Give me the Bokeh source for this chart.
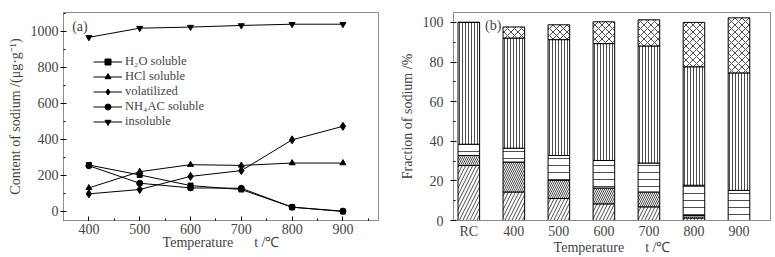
from bokeh.plotting import figure
from bokeh.layouts import row
from bokeh.models import SingleIntervalTicker, FixedTicker, Label, Range1d
from bokeh.embed import file_html
from bokeh.resources import INLINE

# ---------------- data (a) ----------------
temps = [400, 500, 600, 700, 800, 900]
h2o_soluble = [258, 203, 144, 122, 24, 0]
hcl_soluble = [131, 221, 260, 256, 269, 269]
volatilized = [98, 122, 195, 227, 398, 473]
nh4ac_soluble = [254, 157, 131, 129, 24, 2]
insoluble = [967, 1018, 1024, 1033, 1040, 1040]

# ---------------- data (b) ----------------
categories = ["RC", "400", "500", "600", "700", "800", "900"]
frac_h2o = [27.8, 14.4, 11.1, 8.4, 6.9, 1.3, 0.0]
frac_nh4ac = [5.0, 15.1, 9.2, 8.0, 7.5, 1.2, 0.0]
frac_hcl = [5.7, 7.0, 12.5, 13.9, 14.6, 15.3, 15.2]
frac_insoluble = [61.5, 55.6, 58.5, 59.0, 59.1, 59.8, 59.3]
frac_volatilized = [0.0, 5.6, 7.5, 11.0, 13.2, 22.4, 27.8]

FONT = "Liberation Serif"
FS = "14px"
FRAME = "#8c8c8c"
NB = "\u00a0"
XLABEL = "Temperature" + NB * 6 + "t" + NB + "/℃"


def style(p):
    p.outline_line_color = FRAME
    p.outline_line_width = 1
    p.xgrid.visible = False
    p.ygrid.visible = False
    for ax in p.axis:
        ax.axis_line_color = FRAME
        ax.major_label_text_font = FONT
        ax.major_label_text_font_size = FS
        ax.axis_label_text_font = FONT
        ax.axis_label_text_font_size = FS
        ax.axis_label_text_font_style = "normal"
        ax.axis_label_text_line_height = 0.8
        ax.major_tick_line_color = "black"
        ax.minor_tick_line_color = "black"
    for ax in p.yaxis:
        ax.major_tick_out = 3
        ax.major_tick_in = 3
        ax.minor_tick_out = 0
        ax.minor_tick_in = 2
        ax.major_label_standoff = 2
        ax.axis_label_standoff = 5
    for ax in p.xaxis:
        ax.major_tick_out = 0
        ax.major_tick_in = 4
        ax.minor_tick_out = 0
        ax.minor_tick_in = 2
        ax.major_label_standoff = 3
        ax.axis_label_standoff = -2


# ---------------- panel (a) ----------------
p1 = figure(width=388, height=257, output_backend="svg", toolbar_location=None,
            x_range=Range1d(350, 970), y_range=Range1d(-50, 1105),
            min_border_left=63, min_border_right=10, min_border_top=11, min_border_bottom=37)
style(p1)
p1.xaxis.ticker = SingleIntervalTicker(interval=100, num_minor_ticks=2)
p1.yaxis.ticker = SingleIntervalTicker(interval=200, num_minor_ticks=2)
p1.xaxis.axis_label = XLABEL
p1.yaxis.axis_label = "Content of sodium /(μg·g⁻¹)"

series = [
    ("H₂O soluble", h2o_soluble, "square"),
    ("HCl soluble", hcl_soluble, "triangle"),
    ("volatilized", volatilized, "diamond"),
    ("NH₄AC soluble", nh4ac_soluble, "circle"),
    ("insoluble", insoluble, "inverted_triangle"),
]
for name, vals, marker in series:
    sz = {"square": 5, "diamond": 8}.get(marker, 6)
    p1.line(temps, vals, line_color="black", line_width=1, legend_label=name)
    p1.scatter(temps, vals, marker=marker, size=sz, fill_color="black",
               line_color="black", legend_label=name)

lg = p1.legend[0]
lg.location = (30, 91)
lg.padding = 0
lg.margin = 0
lg.spacing = 0
lg.label_height = 15
lg.glyph_height = 15
lg.glyph_width = 29
lg.label_standoff = 3
lg.label_text_font = FONT
lg.label_text_font_size = "12.5px"
lg.border_line_alpha = 0
lg.background_fill_alpha = 0

p1.add_layout(Label(x=367, y=1028, text="(a)", text_font=FONT, text_font_size=FS,
                    text_baseline="middle"))

# ---------------- panel (b) ----------------
xs = list(range(len(categories)))
p2 = figure(width=387, height=257, output_backend="svg", toolbar_location=None,
            x_range=Range1d(-0.34, 6.70), y_range=Range1d(0, 105),
            min_border_left=65, min_border_right=5, min_border_top=12, min_border_bottom=37)
style(p2)
p2.xaxis.ticker = FixedTicker(ticks=xs)
p2.xaxis.major_label_overrides = {i: c for i, c in enumerate(categories)}
p2.xaxis.major_tick_in = 0
p2.xaxis.minor_tick_in = 0
p2.yaxis.ticker = SingleIntervalTicker(interval=20, num_minor_ticks=2)
p2.yaxis.major_label_standoff = 7
p2.xaxis.axis_label = XLABEL
p2.yaxis.axis_label = "Fraction of sodium /%"

data = dict(x=xs, h2o=frac_h2o, nh4=frac_nh4ac, hcl=frac_hcl,
            ins=frac_insoluble, vol=frac_volatilized)
p2.vbar_stack(["h2o", "nh4", "hcl", "ins", "vol"], x="x", width=0.48, source=data,
              fill_color="white", line_color="black", line_width=1,
              hatch_color="black", hatch_weight=0.7,
              hatch_pattern=["/", "\\", "-", "|", "x"],
              hatch_scale=[7, 4, 7, 3, 7])

p2.add_layout(Label(x=0.36, y=98.5, text="(b)", text_font=FONT, text_font_size=FS,
                    text_baseline="middle"))

layout = row(p1, p2)
open("out.html", "w").write(file_html(layout, INLINE))
